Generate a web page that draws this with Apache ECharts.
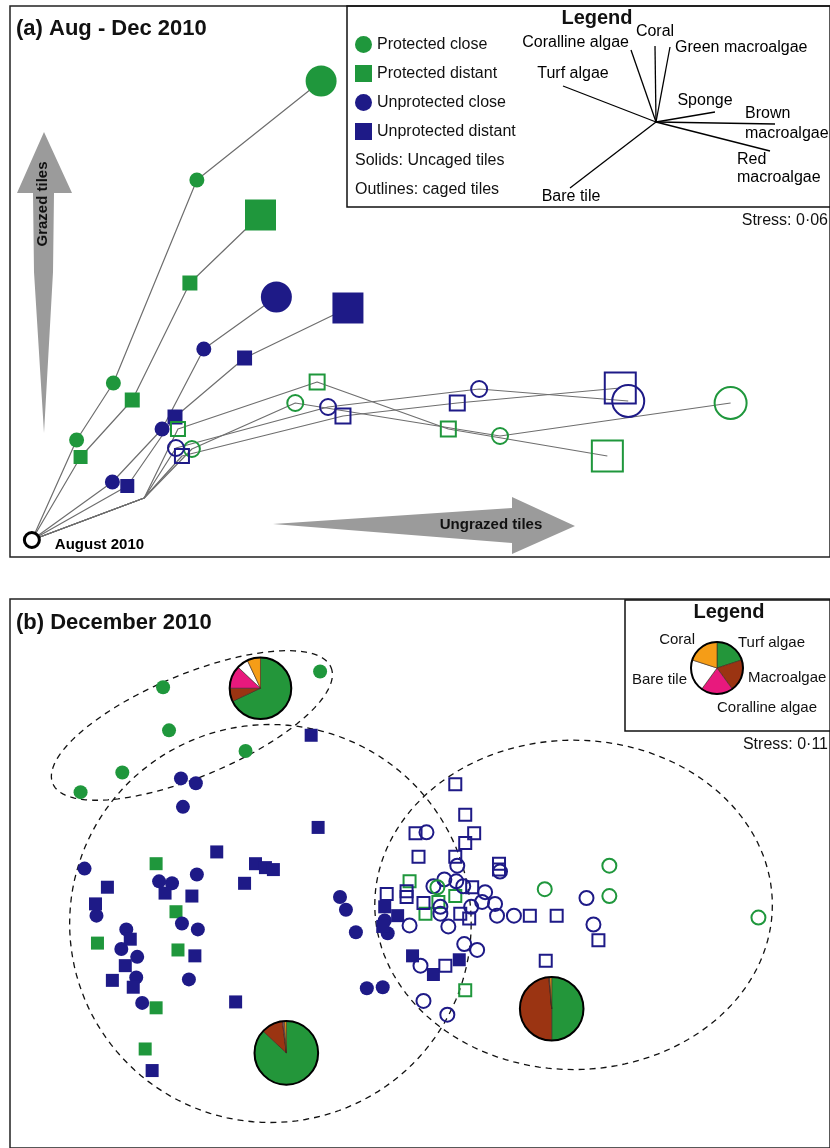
<!DOCTYPE html>
<html>
<head>
<meta charset="utf-8">
<script src="https://cdn.jsdelivr.net/npm/echarts@6.0.0/dist/echarts.min.js"></script>
<style>
  html, body { margin: 0; padding: 0; background: #fff; }
  #chartWrap { width: 830px; height: 1148px; }
</style>
</head>
<body>
<div id="chartWrap"></div>
<script>
var FONT = '"Liberation Sans", Arial, sans-serif';
var GREEN = '#1f973c';
var NAVY = '#1e1a87';
var LINE = '#6e6e6e';

// ---- panel (a): nMDS trajectories, Aug -> Dec 2010 (plot units) ----
var groupNames = ['Protected close', 'Protected distant', 'Unprotected close', 'Unprotected distant'];
var groupColors = [GREEN, GREEN, NAVY, NAVY];
var groupSymbols = ['circle', 'rect', 'circle', 'rect'];
var originPt = [32, 540];
var cagedBend = [145, 498];
var uncagedX = [[77, 114, 198, 323], [81, 133, 191, 262], [113, 163, 205, 278], [128, 176, 246, 350]];
var uncagedY = [[440, 383, 180, 81], [457, 400, 283, 215], [482, 429, 349, 297], [486, 417, 358, 308]];
var cagedX = [[193, 297, 503, 735], [179, 319, 451, 611], [177, 330, 482, 632], [183, 345, 460, 624]];
var cagedY = [[449, 403, 436, 403], [429, 382, 429, 456], [448, 407, 389, 401], [456, 416, 403, 388]];
var stepSizeCircle = [15, 15, 15, 31];
var stepSizeRect = [14, 15, 15, 31];

// biplot vectors (legend of panel a)
var vecNames = ['Coralline algae', 'Coral', 'Green macroalgae', 'Turf algae', 'Sponge', 'Brown\nmacroalgae', 'Red\nmacroalgae', 'Bare tile'];
var vecX = [-25, -1, 14, -93, 59, 119, 114, -86];
var vecY = [72, 76, 75, 36, 10, -2, -29, -66];

// ---- panel (b): December 2010 samples ----
var bPCuncaged = [[322, 673], [164, 689], [170, 733], [247, 754], [123, 776], [81, 796]];
var bPDuncaged = [[157, 869], [177, 918], [98, 950], [179, 957], [157, 1016], [146, 1058]];
var bUCuncaged = [[182, 782], [197, 787], [184, 811], [85, 874], [160, 887], [173, 889], [198, 880], [97, 922],
  [127, 936], [122, 956], [138, 964], [183, 930], [199, 936], [137, 985], [190, 987], [143, 1011],
  [342, 903], [348, 916], [358, 939], [369, 996], [385, 995], [387, 927], [390, 940]];
var bUDuncaged = [[313, 738], [320, 832], [218, 857], [257, 869], [267, 873], [275, 875], [246, 889], [193, 902],
  [166, 899], [108, 893], [96, 910], [131, 946], [126, 973], [196, 963], [113, 988], [134, 995], [237, 1010],
  [153, 1080], [387, 913], [400, 922], [385, 933], [415, 963], [436, 982], [462, 967]];
var bPCcaged = [[613, 871], [548, 895], [613, 902], [763, 924], [440, 893]];
var bPDcaged = [[412, 887], [428, 920], [441, 908], [458, 902], [468, 998]];
var bUCcaged = [[429, 837], [460, 871], [503, 877], [436, 892], [447, 885], [459, 887], [466, 892], [474, 913],
  [443, 913], [443, 920], [451, 933], [412, 932], [488, 898], [485, 908], [498, 910], [500, 922], [517, 922],
  [467, 951], [480, 957], [423, 973], [426, 1009], [450, 1023], [590, 904], [597, 931]];
var bUDcaged = [[458, 788], [468, 819], [477, 838], [468, 848], [418, 838], [421, 862], [458, 862], [502, 869],
  [502, 875], [389, 900], [409, 897], [409, 903], [426, 909], [463, 920], [472, 925], [475, 893], [533, 922],
  [560, 922], [602, 947], [549, 968], [448, 973]];

// group ellipses: cx, cy, semi-axis a, semi-axis b, rotation (deg)
var ellipses = [[193, 728, 152, 52, -23], [272, 930, 202, 203, 0], [577, 911, 200, 168, 0]];

// cover composition per group: cx, cy, radius, turf, macroalgae, coralline, bare tile, coral (%)
var coverNames = ['Turf algae', 'Macroalgae', 'Coralline algae', 'Bare tile', 'Coral'];
var coverColors = ['#23963a', '#9b3412', '#e8197d', '#ffffff', '#f59d17'];
var coverPies = [
  [262, 690, 31, 68, 7, 12, 6, 7],
  [288, 1062, 32, 87, 11, 0.5, 0.5, 1],
  [555, 1017, 32, 50, 48.5, 0.3, 0.2, 1]
];

function renderEllipse(params, api) {
  var cx = api.value(0), cy = api.value(1), a = api.value(2), b = api.value(3);
  var ang = api.value(4) * Math.PI / 180;
  var pts = [];
  for (var k = 0; k <= 144; k++) {
    var t = k / 144 * Math.PI * 2;
    var ex = a * Math.cos(t), ey = b * Math.sin(t);
    pts.push(api.coord([cx + ex * Math.cos(ang) - ey * Math.sin(ang), cy + ex * Math.sin(ang) + ey * Math.cos(ang)]));
  }
  return {
    type: 'polyline',
    shape: { points: pts },
    style: { fill: null, stroke: '#111', lineWidth: 1.3, lineDash: [6, 5] }
  };
}

function renderPie(params, api) {
  var c = api.coord([api.value(0), api.value(1)]);
  var r = api.size([api.value(2), 0])[0];
  var children = [];
  var start = -Math.PI / 2;
  for (var i = 0; i < coverNames.length; i++) {
    var frac = api.value(3 + i) / 100;
    var end = start + frac * Math.PI * 2;
    children.push({
      type: 'sector',
      shape: { cx: c[0], cy: c[1], r0: 0, r: r, startAngle: start, endAngle: end, clockwise: true },
      style: { fill: coverColors[i], stroke: '#3a2a20', lineWidth: 0.6 }
    });
    start = end;
  }
  children.push({
    type: 'circle',
    shape: { cx: c[0], cy: c[1], r: r },
    style: { fill: null, stroke: '#000', lineWidth: 2 }
  });
  return { type: 'group', children: children };
}

function sizeFn(sym, caged) {
  var arr = sym === 'circle' ? stepSizeCircle : stepSizeRect;
  return function (val, p) {
    return arr[p.dataIndex] + (caged && sym === 'circle' ? 1 : 0);
  };
}

function zip(xs, ys) {
  var out = [];
  for (var i = 0; i < xs.length; i++) out.push([xs[i], ys[i]]);
  return out;
}

var series = [];

// trajectories (lines first)
for (var g = 0; g < 4; g++) {
  series.push({
    type: 'line', xAxisIndex: 0, yAxisIndex: 0, symbol: 'none', silent: true, z: 2,
    lineStyle: { color: LINE, width: 1.2 },
    data: [originPt].concat(zip(uncagedX[g], uncagedY[g]))
  });
  series.push({
    type: 'line', xAxisIndex: 0, yAxisIndex: 0, symbol: 'none', silent: true, z: 2,
    lineStyle: { color: LINE, width: 1.2 },
    data: [originPt, cagedBend].concat(zip(cagedX[g], cagedY[g]))
  });
}
for (var g2 = 0; g2 < 4; g2++) {
  series.push({
    name: groupNames[g2], type: 'scatter', xAxisIndex: 0, yAxisIndex: 0, z: 4,
    symbol: groupSymbols[g2], symbolSize: sizeFn(groupSymbols[g2], false),
    itemStyle: { color: groupColors[g2], opacity: 1 },
    data: zip(uncagedX[g2], uncagedY[g2])
  });
  series.push({
    name: groupNames[g2] + ' (caged)', type: 'scatter', xAxisIndex: 0, yAxisIndex: 0, z: 5,
    symbol: groupSymbols[g2], symbolSize: sizeFn(groupSymbols[g2], true),
    itemStyle: { color: 'rgba(255,255,255,0)', borderColor: groupColors[g2], borderWidth: 2, opacity: 1 },
    data: zip(cagedX[g2], cagedY[g2])
  });
}
series.push({
  name: 'August 2010', type: 'scatter', xAxisIndex: 0, yAxisIndex: 0, z: 6,
  symbol: 'circle', symbolSize: 15,
  itemStyle: { color: '#fff', borderColor: '#000', borderWidth: 3, opacity: 1 },
  label: { show: true, position: 'right', distance: 14, formatter: 'August 2010', color: '#000',
    fontFamily: FONT, fontWeight: 'bold', fontSize: 15, offset: [0, 5] },
  data: [originPt]
});

// biplot vectors
series.push({
  type: 'lines', coordinateSystem: 'cartesian2d', xAxisIndex: 2, yAxisIndex: 2, silent: true, z: 20,
  lineStyle: { color: '#000', width: 1.3, opacity: 1 },
  data: vecNames.map(function (n, i) { return { coords: [[0, 0], [vecX[i], vecY[i]]] }; })
});
var vecLabelPos = [
  { position: [-2, -7], align: 'right' },
  { position: [0, -14], align: 'center' },
  { position: [5, 1], align: 'left' },
  { position: [10, -12], align: 'center' },
  { position: [-10, -11], align: 'center' },
  { position: [-30, 0], align: 'left', lineHeight: 20 },
  { position: [-33, 18], align: 'left', lineHeight: 18 },
  { position: [1, 9], align: 'center' }
];
series.push({
  type: 'scatter', xAxisIndex: 2, yAxisIndex: 2, symbolSize: 0, silent: true, z: 21,
  itemStyle: { opacity: 1 },
  data: vecNames.map(function (n, i) {
    var lp = vecLabelPos[i];
    return {
      value: [vecX[i], vecY[i]],
      label: {
        show: true, formatter: n, position: lp.position, align: lp.align, verticalAlign: 'middle',
        lineHeight: lp.lineHeight || 18, fontSize: 16, fontFamily: FONT, color: '#000', opacity: 1
      }
    };
  })
});

// panel (b)
series.push({
  type: 'custom', xAxisIndex: 1, yAxisIndex: 1, silent: true, z: 1,
  renderItem: renderEllipse, data: ellipses
});
var bSets = [
  [bPCuncaged, GREEN, 'circle', false], [bPDuncaged, GREEN, 'rect', false],
  [bUCuncaged, NAVY, 'circle', false], [bUDuncaged, NAVY, 'rect', false],
  [bPDcaged, GREEN, 'rect', true], [bUDcaged, NAVY, 'rect', true],
  [bUCcaged, NAVY, 'circle', true], [bPCcaged, GREEN, 'circle', true]
];
bSets.forEach(function (s) {
  series.push({
    type: 'scatter', xAxisIndex: 1, yAxisIndex: 1, z: s[3] ? 4 : 3, silent: true,
    symbol: s[2], symbolSize: s[3] ? (s[2] === 'circle' ? 14 : 12) : (s[2] === 'circle' ? 14 : 13),
    itemStyle: s[3]
      ? { color: 'rgba(255,255,255,0)', borderColor: s[1], borderWidth: 2, opacity: 1 }
      : { color: s[1], opacity: 1 },
    data: s[0]
  });
});
series.push({
  type: 'custom', xAxisIndex: 1, yAxisIndex: 1, silent: true, z: 7,
  renderItem: renderPie, data: coverPies
});

// legend pie of panel (b)
series.push({
  type: 'pie', center: [717, 668], radius: 26, startAngle: 90, clockwise: true, silent: true, z: 20,
  label: { show: false }, labelLine: { show: false },
  itemStyle: { borderColor: '#3a2a20', borderWidth: 0.6 },
  data: coverNames.map(function (n, i) { return { name: n, value: 1, itemStyle: { color: coverColors[i] } }; })
});

function txt(x, y, s, opt) {
  opt = opt || {};
  return {
    type: 'text', x: x, y: y, z: 20, silent: true,
    style: {
      text: s, fill: '#111',
      font: (opt.bold ? 'bold ' : '') + (opt.size || 16) + 'px ' + FONT,
      textAlign: opt.align || 'left', align: opt.align || 'left',
      textVerticalAlign: 'middle', verticalAlign: 'middle'
    },
    rotation: opt.rotation || 0
  };
}

var graphics = [
  // legend boxes (outline only, contents are drawn by series)
  { type: 'rect', z: 15, silent: true, shape: { x: 347, y: 6, width: 490, height: 201 },
    style: { fill: null, stroke: '#111', lineWidth: 1.5 } },
  { type: 'rect', z: 15, silent: true, shape: { x: 625, y: 600, width: 210, height: 131 },
    style: { fill: null, stroke: '#111', lineWidth: 1.5 } },
  // grazing arrows
  { type: 'polygon', z: 3, silent: true,
    shape: { points: [[44, 132], [72, 193], [54, 193], [53, 272], [44, 433], [34, 272], [33, 193], [17, 193]] },
    style: { fill: '#9b9b9b' } },
  { type: 'polygon', z: 3, silent: true,
    shape: { points: [[273, 524], [512, 508], [512, 497], [575, 526], [512, 554], [512, 543]] },
    style: { fill: '#9b9b9b' } },
  txt(43, 204, 'Grazed tiles', { bold: true, size: 15, align: 'center', rotation: Math.PI / 2 }),
  txt(491, 525, 'Ungrazed tiles', { bold: true, size: 15, align: 'center' }),
  // titles
  txt(16, 29, '(a) Aug - Dec 2010', { bold: true, size: 22 }),
  txt(16, 623, '(b) December 2010', { bold: true, size: 22 }),
  // legend (a)
  txt(597, 18, 'Legend', { bold: true, size: 20, align: 'center' }),
  txt(355, 161, 'Solids: Uncaged tiles'),
  txt(355, 190, 'Outlines: caged tiles'),
  txt(828, 221, 'Stress: 0\u00b706', { align: 'right' }),
  // legend (b)
  txt(729, 612, 'Legend', { bold: true, size: 20, align: 'center' }),
  txt(695, 640, 'Coral', { size: 15, align: 'right' }),
  txt(738, 643, 'Turf algae', { size: 15 }),
  txt(687, 680, 'Bare tile', { size: 15, align: 'right' }),
  txt(748, 678, 'Macroalgae', { size: 15 }),
  txt(767, 708, 'Coralline algae', { size: 15, align: 'center' }),
  txt(828, 745, 'Stress: 0\u00b711', { align: 'right' }),
  { type: 'circle', z: 30, silent: true, shape: { cx: 717, cy: 668, r: 26 },
    style: { fill: null, stroke: '#000', lineWidth: 2 } }
];

var chart = echarts.init(document.getElementById('chartWrap'));
chart.setOption({
  animation: false,
  backgroundColor: '#fff',
  grid: [
    { left: 10, top: 6, width: 825, height: 551, show: true, borderColor: '#222', borderWidth: 1.5, backgroundColor: '#fff' },
    { left: 10, top: 599, width: 825, height: 560, show: true, borderColor: '#222', borderWidth: 1.5, backgroundColor: '#fff' },
    { left: 556, top: 22, width: 240, height: 180, show: false }
  ],
  xAxis: [
    { type: 'value', gridIndex: 0, min: 10, max: 835, show: false },
    { type: 'value', gridIndex: 1, min: 10, max: 835, show: false },
    { type: 'value', gridIndex: 2, min: -100, max: 140, show: false }
  ],
  yAxis: [
    { type: 'value', gridIndex: 0, min: 6, max: 557, inverse: true, show: false },
    { type: 'value', gridIndex: 1, min: 599, max: 1159, inverse: true, show: false },
    { type: 'value', gridIndex: 2, min: -80, max: 100, show: false }
  ],
  legend: {
    data: groupNames, orient: 'vertical', left: 355, top: 36, padding: 0,
    itemWidth: 17, itemHeight: 17, itemGap: 12, selectedMode: false, z: 20,
    textStyle: { fontSize: 16, fontFamily: FONT, color: '#111' }
  },
  graphic: graphics,
  series: series
});
</script>
</body>
</html>
